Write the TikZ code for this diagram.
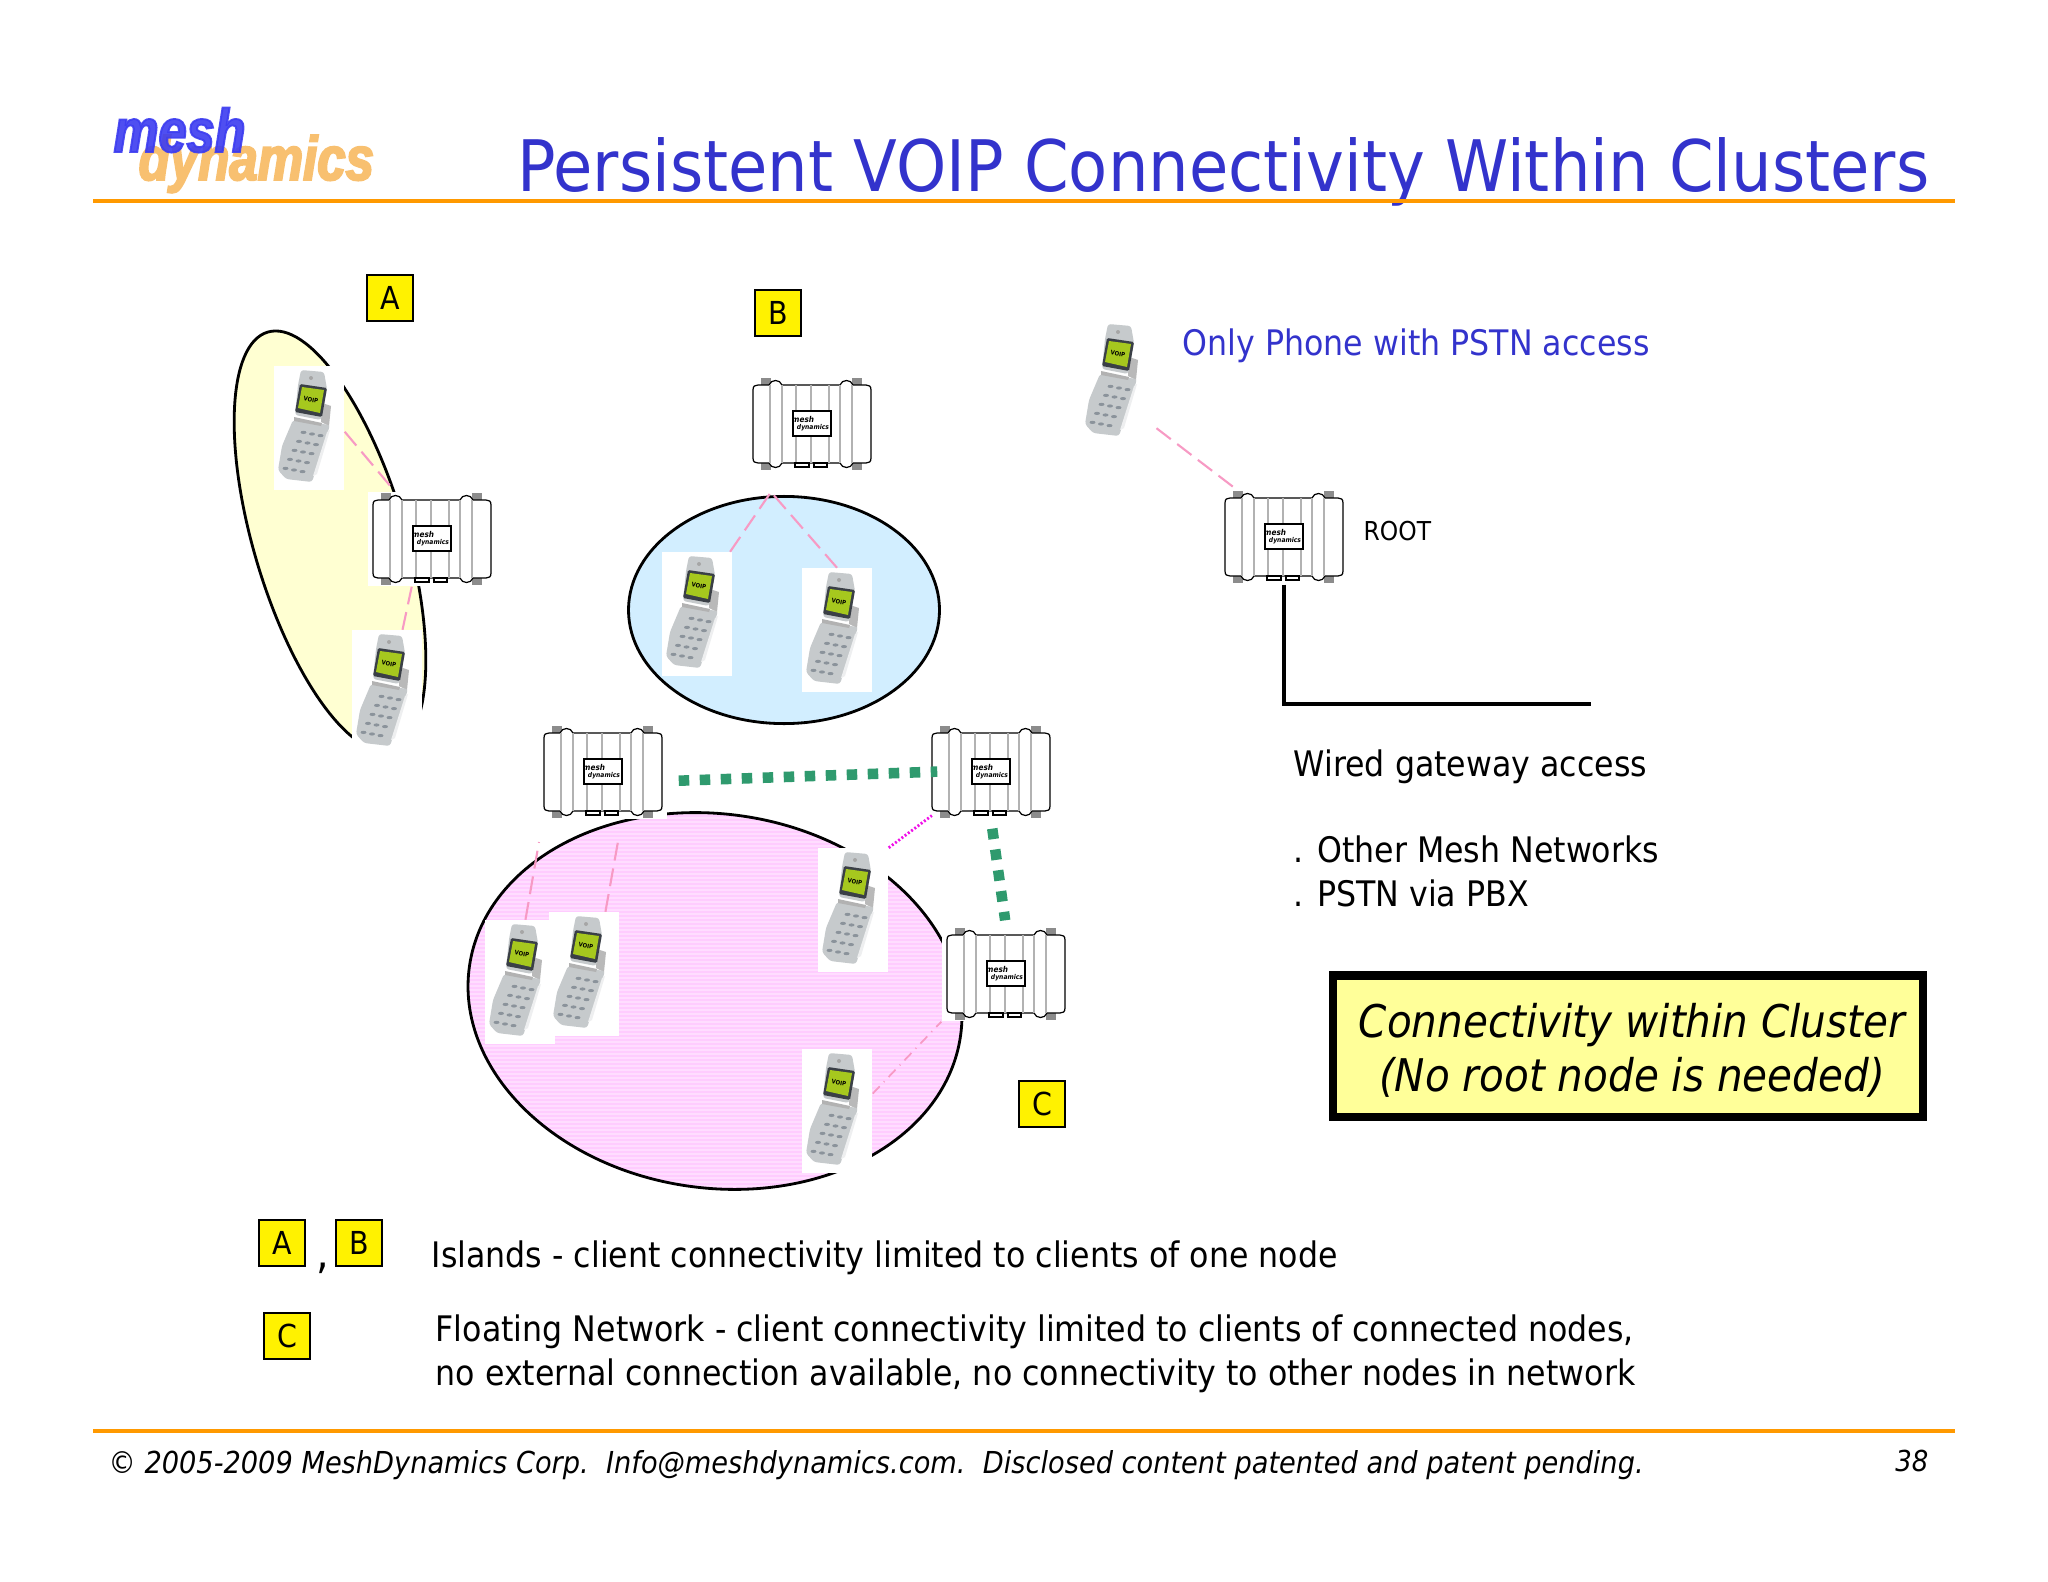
\documentclass[tikz,border=0pt]{standalone}
\usepackage{fontspec}
\usepackage{tikz}
\usetikzlibrary{positioning}
\setmainfont{DejaVu Sans}[FakeStretch=0.9]
\newfontfamily\logofont{Liberation Sans}[FakeBold=3,FakeStretch=0.74]

\definecolor{ruleorange}{HTML}{FF9900}
\definecolor{titleblue}{HTML}{3333CC}
\definecolor{logoblue}{HTML}{3C3CF0}
\definecolor{logoorange}{HTML}{F8C070}
\definecolor{islandyellow}{HTML}{FFFFD2}
\definecolor{islandblue}{HTML}{D2EEFF}
\definecolor{floatpink}{HTML}{FFCCFF}
\definecolor{floatstripe}{HTML}{FFDDFF}
\definecolor{voippink}{HTML}{F79AC4}
\definecolor{hopmagenta}{HTML}{F010E8}
\definecolor{trunkgreen}{HTML}{2F9A6E}
\definecolor{calloutyellow}{HTML}{FFFF99}
\definecolor{phonebody}{HTML}{C6CACC}
\definecolor{phonekey}{HTML}{8B939B}
\definecolor{phonegreen}{HTML}{A6C81E}
\definecolor{phonedark}{HTML}{3A3F46}

\tikzset{
  rule/.style={ruleorange,line width=1.25pt},
  cluster/.style={draw=black,line width=.8pt},
  nodebg/.style={fill=white,minimum width=1.28cm,minimum height=.94cm,inner sep=0pt},
  phonebg/.style={fill=white,minimum width=.70cm,minimum height=1.23cm,inner sep=0pt},
  tag/.style={draw=black,fill=yellow,line width=.6pt,minimum size=.46cm,inner sep=0pt,font=\fontsize{9}{9}\selectfont},
  bodytext/.style={anchor=base west,inner sep=0pt,align=left,font=\fontsize{10}{12.4}\selectfont},
  voip/.style={voippink,line width=.6pt,dash pattern=on .18cm off .08cm},
  voipdot/.style={voippink,line width=.5pt,dash pattern=on .1cm off .06cm on .01cm off .06cm},
  hop/.style={hopmagenta,line width=.8pt,dash pattern=on .02cm off .02cm},
  trunk/.style={trunkgreen,line width=3pt,dash pattern=on .105cm off .105cm},
  pics/meshbody/.style={code={
    \foreach \ax in {-46,45} {
      \fill[gray!90] (\ax-5,-46) rectangle (\ax+5,-39);
      \fill[gray!90] (\ax-5,39) rectangle (\ax+5,46);
    }
    \draw[black,line width=.35pt,fill=white]
      (-59,-34) .. controls (-59,-38) and (-57,-39) .. (-54,-39) -- (-43,-39)
      .. controls (-41,-45) and (-32,-45) .. (-30,-39) -- (28,-39)
      .. controls (30,-45) and (39,-45) .. (41,-39) -- (54,-39)
      .. controls (57,-39) and (59,-38) .. (59,-34) -- (59,34)
      .. controls (59,38) and (57,39) .. (54,39) -- (41,39)
      .. controls (39,45) and (30,45) .. (28,39) -- (-30,39)
      .. controls (-32,45) and (-41,45) .. (-43,39) -- (-54,39)
      .. controls (-57,39) and (-59,38) .. (-59,34) -- cycle;
    \foreach \bx in {-42,-30,-16,-1,17,28,40}
      \draw[gray!60,line width=.4pt] (\bx,-39) -- (\bx,39);
    \draw[black,line width=.4pt,fill=white] (-17,39) rectangle (-3,43);
    \draw[black,line width=.4pt,fill=white] (2,39) rectangle (15,43);
    \draw[black,line width=.6pt,fill=white] (-19,-13) rectangle (19,12);
    \node[inner sep=0pt,font=\fontsize{2.3}{3}\selectfont\bfseries\itshape] at (-9,-5) {mesh};
    \node[inner sep=0pt,font=\fontsize{1.9}{3}\selectfont\bfseries\itshape] at (1,4) {dynamics};
  }},
  pics/phonebody/.style={code={
    % hinge, base and lid
    \fill[gray!55] (13,-25) -- (22,-22) -- (20,-2) -- (12,-6) -- cycle;
    \fill[phonebody,rounded corners=.8pt] (-16,-8) -- (21,-3) -- (3,54) -- (-23,51) -- (-31,42) -- (-27,18) -- cycle;
    \fill[phonebody,rounded corners=.8pt] (-8,-58) -- (15,-56) -- (18,-39) -- (12,-8) -- (-14,-13) -- (-11,-43) -- cycle;
    \fill[gray!60] (-15,-11) -- (13,-5) -- (12,-2) -- (-15,-7) -- cycle;
    \fill[white!70!phonebody] (18,4) -- (21,2) -- (8,46) -- (4,48) -- cycle;
    \foreach \r in {-2,...,2}
      \foreach \c in {-1,0,1}
        \fill[phonekey] ({-6+\c*8.5-\r*4.5},{24+\c*1.6+\r*9}) ellipse [x radius=3,y radius=1.6];
    \fill[gray!70] (2,-50) circle (2);
    % screen
    \fill[phonedark,rounded corners=.4pt] (-9,-44) -- (18,-40) -- (13,-11) -- (-14,-16) -- cycle;
    \fill[phonegreen] (-7,-41) -- (15,-38) -- (11,-15) -- (-11,-20) -- cycle;
    \node[inner sep=0pt,rotate=-10,font=\fontsize{1.7}{3}\selectfont\bfseries] at (2,-28) {VOIP};
  }},
}

\begin{document}
\begin{tikzpicture}[x=.01cm,y=-.01cm]
  \useasboundingbox (0,0) rectangle (2048,1582);

  % logo and title
  \node[anchor=base west,inner sep=0pt,text=logoorange,font=\logofont\fontsize{19.6}{20}\selectfont\bfseries\itshape] (logoB) at (138,180) {\scalebox{1}[.9]{dynamics}};
  \node[anchor=base west,inner sep=0pt,text=logoblue,opacity=.9,font=\logofont\fontsize{19.4}{20}\selectfont\bfseries\itshape] (logoA) at (113,152) {\scalebox{1}[.9]{mesh}};
  \node[anchor=base east,inner sep=0pt,text=titleblue,font=\fontsize{20.2}{24}\selectfont] (title) at (1930,192) {Persistent VOIP Connectivity Within Clusters};
  \draw[rule] (93,201) -- (1955,201);
  \draw[rule] (93,1431) -- (1955,1431);

  % clusters
  \draw[cluster,fill=islandyellow,rotate around={16.6:(330,541)}] (330,541) ellipse [x radius=76,y radius=218];
  \draw[cluster,fill=islandblue] (784,610) ellipse [x radius=155.5,y radius=113.6];
  \begin{scope}
    \clip[rotate around={-8:(715,1001)}] (715,1001) ellipse [x radius=248,y radius=187];
    \fill[floatpink] (460,810) rectangle (970,1195);
    \foreach \sy in {810,814,...,1195}
      \draw[floatstripe,line width=.55pt] (460,\sy) -- (970,\sy);
  \end{scope}
  \draw[cluster,rotate around={-8:(715,1001)}] (715,1001) ellipse [x radius=248,y radius=187];

  % mesh nodes
  \foreach \name/\pos in {nA/{432,539},nB/{812,424},nRoot/{1284,537},nML/{603,772},nMR/{991,772},nC/{1006,974}} {
    \node[nodebg] (\name) at (\pos) {};
    \pic at (\name) {meshbody};
  }
  % phones
  \foreach \name/\pos in {phA1/{309,428},phA2/{387,692},phB1/{697,614},phB2/{837,630},phC1/{520,982},phC2/{584,974},phC3/{853,910},phC4/{837,1111},phT/{1116,382}} {
    \node[phonebg] (\name) at (\pos) {};
    \pic at (\name) {phonebody};
  }

  \coordinate (jB) at (771,492);
  \coordinate (jL) at (539,842);
  \coordinate (jR) at (619,836);
  \coordinate (wireEnd) at (1591,704);

  % connectors
  \draw[voip] (phA1.-6) -- (nA.128);
  \draw[voip,shorten >=-.08cm] (phA2.76) -- (nA.-113);
  \draw[voip] (phB1.62) -- (jB);
  \draw[voip] (phB2.north) -- (jB);
  \draw[voip] (phC1.85) -- (jL);
  \draw[voip] (phC2.71) -- (jR);
  \draw[voipdot] (phC4.26) -- (nC.south west);
  \draw[hop,shorten >=-.07cm] (phC3.north east) -- (nMR.south west);
  \draw[voip,shorten <=.06cm] (phT.-50) -- (nRoot.135.6);
  \draw[trunk,shorten <=.11cm,shorten >=-.11cm] (nML.-8) -- (nMR.west);
  \draw[trunk,shorten <=.09cm,shorten >=.06cm] (nMR.south) -- (nC.north);
  \draw[line width=1.4pt] (nRoot.south) |- (wireEnd);

  % tags
  \node[tag] (tagA) at (390,298) {A};
  \node[tag] (tagB) at (778,313) {B};
  \node[tag] (tagC) at (1042,1104) {C};
  \node[tag] (keyA) at (282,1243) {A};
  \node[tag] (keyB) at (359,1243) {B};
  \node[tag] (keyC) at (287,1336) {C};

  % texts
  \node[bodytext,text=titleblue] (lblPhone) at (1182,355) {Only Phone with PSTN access};
  \node[anchor=base west,inner sep=0pt,font=\fontsize{7.4}{9}\selectfont] (lblRoot) at (1363,540) {ROOT};
  \node[bodytext] (lblWired) at (1293,776) {Wired gateway access};
  \node[bodytext] (lblOther) at (1293,906) {. Other Mesh Networks\\. PSTN via PBX};
  \node[bodytext,font=\fontsize{12.6}{12.6}\selectfont] (lblComma) at (316,1268) {,};
  \node[bodytext] (lblIslands) at (431,1267) {Islands - client connectivity limited to clients of one node};
  \node[bodytext] (lblFloat) at (435,1385) {Floating Network - client connectivity limited to clients of connected nodes,\\no external connection available, no connectivity to other nodes in network};

  % callout
  \node[draw=black,fill=calloutyellow,line width=2.3pt,minimum width=5.9cm,minimum height=1.41cm,inner sep=0pt,align=center,font=\fontsize{12.8}{15.6}\selectfont\itshape] (callout) at (1628,1046) {\hspace*{.08cm}\rule{0pt}{12.2pt}Connectivity within Cluster\\\hspace*{.08cm}(No root node is needed)};

  % footer
  \node[anchor=base west,inner sep=0pt,font=\fontsize{8.6}{10}\selectfont\itshape] (footer) at (108,1473) {© 2005-2009 MeshDynamics Corp.\ \ Info@meshdynamics.com.\ \ Disclosed content patented and patent pending.};
  \node[anchor=base east,inner sep=0pt,font=\fontsize{8.2}{10}\selectfont\itshape] (pageNo) at (1929,1471) {38};
\end{tikzpicture}
\end{document}
